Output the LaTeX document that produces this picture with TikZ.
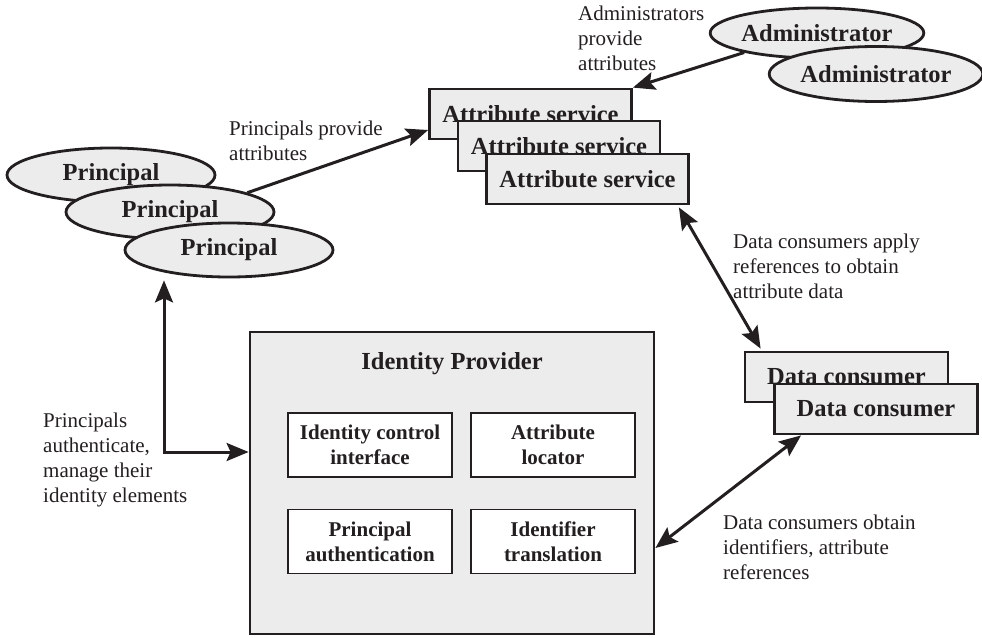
\documentclass[tikz,border=0pt]{standalone}
\usepackage{fontspec}
\setmainfont{Liberation Serif}
\usetikzlibrary{shapes.geometric,arrows.meta}
\definecolor{boxfill}{HTML}{EBECEB}
\definecolor{ink}{HTML}{231F20}
\begin{document}
\begin{tikzpicture}[x=1pt,y=-1pt,
  actor/.style={ellipse,draw=ink,line width=2.8pt,fill=boxfill,inner sep=0pt,
    minimum width=208pt,minimum height=54pt,font=\fontsize{24.5}{28}\selectfont\bfseries,text=ink},
  svcbox/.style={rectangle,draw=ink,line width=2.8pt,fill=boxfill,inner sep=0pt,
    minimum width=202pt,minimum height=50pt,font=\fontsize{24.5}{28}\selectfont\bfseries,text=ink},
  part/.style={rectangle,draw=ink,line width=1.4pt,fill=white,inner sep=0pt,align=center,
    minimum width=164pt,minimum height=64pt,font=\fontsize{21}{25}\selectfont\bfseries,text=ink},
  note/.style={anchor=north west,inner sep=0pt,align=left,
    font=\fontsize{21}{25}\selectfont,text=ink},
  link/.style={draw=ink,line width=3pt,-{Stealth[length=22pt,width=18pt,inset=4pt]}},
  dlink/.style={link,{Stealth[length=22pt,width=18pt,inset=4pt]}-{Stealth[length=22pt,width=18pt,inset=4pt]}}]
  \useasboundingbox (0,0) rectangle (982,637);
  \node[actor] (pr1) at (111,175) {Principal};
  \node[actor] (pr2) at (170,212) {Principal};
  \node[actor] (pr3) at (229,250) {Principal};
  \node[actor,minimum width=205pt,minimum height=50pt] (ad1) at (817,33) {Administrator};
  \node[actor,minimum height=55pt] (ad2) at (876,74) {Administrator};
  \node[svcbox] (as1) at (530.5,114) {Attribute service};
  \node[svcbox] (as2) at (559,146) {Attribute service};
  \node[svcbox] (as3) at (587.5,179) {Attribute service};
  \node[svcbox,minimum width=203pt] (dc1) at (846.5,377) {Data consumer};
  \node[svcbox,minimum width=203pt] (dc2) at (876,409) {Data consumer};
  \node[svcbox,minimum width=404pt,minimum height=302pt] (idp) at (452,483) {};
  \node[font=\fontsize{24.5}{28}\selectfont\bfseries,text=ink] (idptitle) at (452,364) {Identity Provider};
  \node[part] (ici) at (370,445) {Identity control\\interface};
  \node[part] (loc) at (553,445) {Attribute\\locator};
  \node[part] (pauth) at (370,541.5) {Principal\\authentication};
  \node[part] (idtr) at (553,541.5) {Identifier\\translation};
  \node[note] (n1) at (229,120.7) {Principals provide\\attributes};
  \node[note] (n2) at (578,5.7) {Administrators\\provide\\attributes};
  \node[note] (n3) at (733,233.7) {Data consumers apply\\references to obtain\\attribute data};
  \node[note] (n4) at (723,514.7) {Data consumers obtain\\identifiers, attribute\\references};
  \node[note] (n5) at (43,412.7) {Principals\\authenticate,\\manage their\\identity elements};
  \draw[link] (pr2.14) -- ([yshift=-16pt]as1.west);
  \draw[link] (ad1.195) -- (as1.north east);
  \draw[dlink] ([xshift=-11pt,yshift=-2pt]as3.south east) -- ([xshift=17pt,yshift=2pt]dc1.north west);
  \draw[dlink] ([xshift=28pt]dc2.south west) -- ([yshift=-65pt]idp.east);
  \draw[dlink] ([xshift=-65pt,yshift=-2pt]pr3.south) |- ([yshift=31pt]idp.west);
\end{tikzpicture}
\end{document}
